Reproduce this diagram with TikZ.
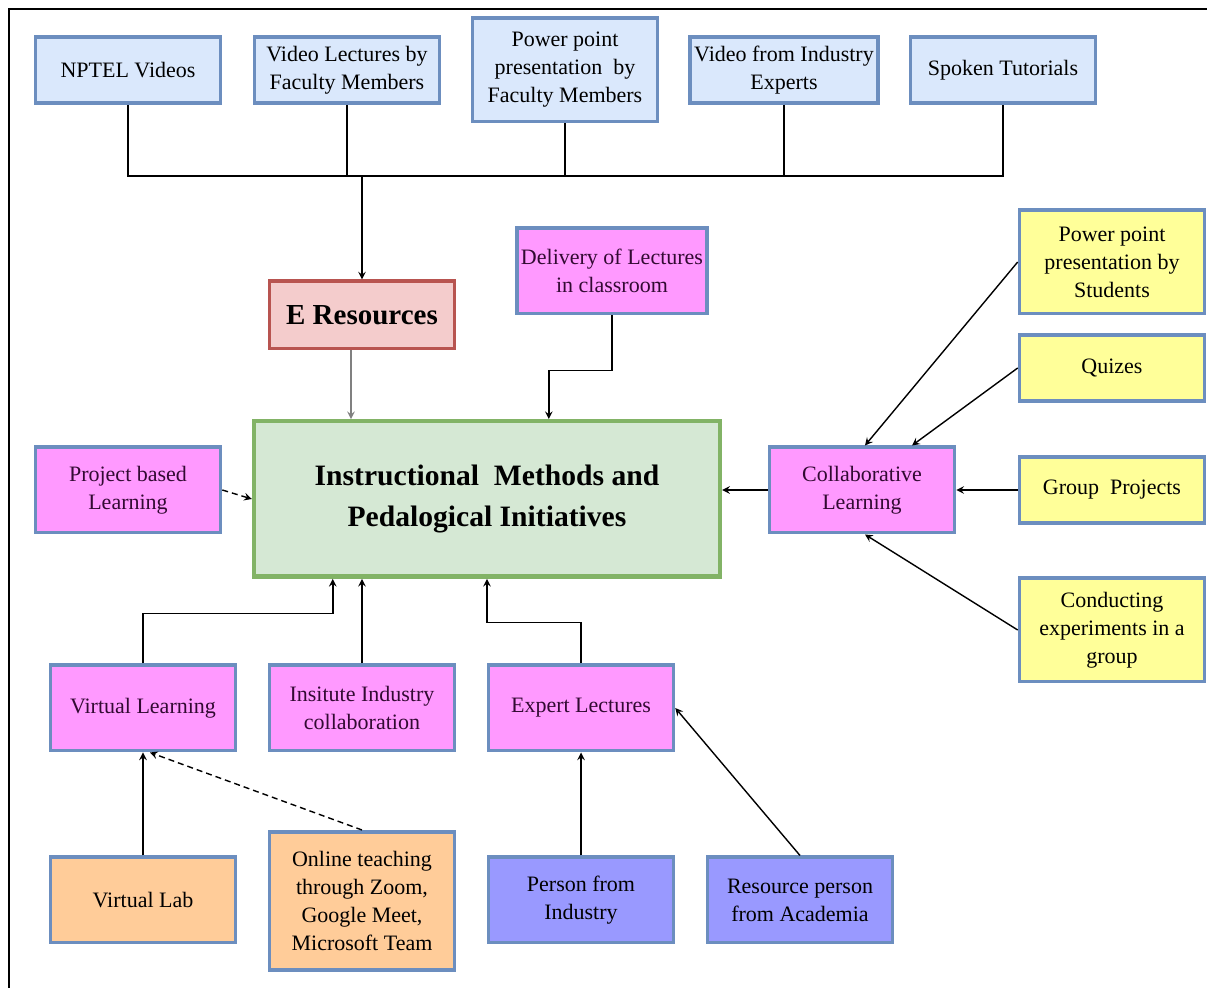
\documentclass[tikz,border=0pt]{standalone}
\usepackage{fontspec}
\setmainfont{LiberationSerif-Regular.ttf}[BoldFont=LiberationSerif-Bold.ttf]
\usepackage{tikz}
\usetikzlibrary{positioning,shapes,arrows,calc}
\definecolor{boxblue}{RGB}{218,232,252}
\definecolor{edgeblue}{RGB}{108,142,191}
\definecolor{boxmagenta}{RGB}{255,153,255}
\definecolor{boxyellow}{RGB}{255,255,153}
\definecolor{boxorange}{RGB}{255,204,153}
\definecolor{boxpurple}{RGB}{153,153,255}
\definecolor{boxpink}{RGB}{244,204,204}
\definecolor{edgered}{RGB}{184,84,80}
\definecolor{boxgreen}{RGB}{213,232,212}
\definecolor{edgegreen}{RGB}{130,179,102}
\definecolor{textpurple}{RGB}{50,10,50}

\tikzset{
  basebox/.style={draw=edgeblue, line width=1.8pt, align=center, inner sep=2pt,
    minimum width=92.5pt, minimum height=33pt, font=\fontsize{11}{14}\selectfont},
  srcbox/.style={basebox, fill=boxblue},
  methodbox/.style={basebox, fill=boxmagenta, minimum height=42.7pt, text=textpurple},
  groupbox/.style={basebox, fill=boxyellow},
  virtbox/.style={basebox, fill=boxorange, minimum height=42.7pt},
  personbox/.style={basebox, fill=boxpurple, minimum height=42.7pt},
  link/.style={-stealth, line width=0.7pt},
}

\begin{document}
\begin{tikzpicture}[x=0.5pt, y=-0.5pt]
\useasboundingbox (0,0) rectangle (1207,988);
% outer frame (left and top only)
\draw[line width=1pt] (9,988) -- (9,9) -- (1207,9);

% E resources at the top
\node[srcbox] (nptel) at (128,70) {NPTEL Videos};
\node[srcbox] (vidlec) at (347,70) {Video Lectures by\\Faculty Members};
\node[srcbox, minimum height=51.7pt] (pptfac) at (565,70) {Power point\\presentation\ \ by\\Faculty Members};
\node[srcbox] (vidind) at (784,70) {Video from Industry\\Experts};
\node[srcbox] (spoken) at (1003,70) {Spoken Tutorials};

\node[basebox, fill=boxpink, draw=edgered, minimum height=33.7pt, font=\fontsize{14.5}{17}\selectfont\bfseries] (eres) at (362,315) {E Resources};

% central node
\node[basebox, fill=boxgreen, draw=edgegreen, line width=2.2pt, minimum width=233pt, minimum height=77.7pt,
  font=\fontsize{14.8}{20.5}\selectfont\bfseries] (main) at (487,499)
  {Instructional\ \ Methods and\\Pedalogical Initiatives};

\node[methodbox] (deliv) at (612,271) {Delivery of Lectures\\in classroom};
\node[methodbox] (proj) at (128,490) {Project based\\Learning};
\node[methodbox] (collab) at (862,490) {Collaborative\\Learning};
\node[methodbox] (vlearn) at (143,708) {Virtual Learning};
\node[methodbox] (inst) at (362,708) {Insitute Industry\\collaboration};
\node[methodbox] (expert) at (581,708) {Expert Lectures};

% collaborative learning inputs
\node[groupbox, minimum height=51.7pt] (pptstu) at (1112,262) {Power point\\presentation by\\Students};
\node[groupbox] (quiz) at (1112,368) {Quizes};
\node[groupbox] (grpproj) at (1112,490) {Group\ \ Projects};
\node[groupbox, minimum height=51.7pt] (expt) at (1112,630) {Conducting\\experiments in a\\group};

% bottom row
\node[virtbox] (vlab) at (143,900) {Virtual Lab};
\node[virtbox, minimum height=69.2pt] (online) at (362,901) {Online teaching\\through Zoom,\\Google Meet,\\Microsoft Team};
\node[personbox] (pind) at (581,900) {Person from\\Industry};
\node[personbox] (pacad) at (800,900) {Resource person\\from Academia};

% bus from the video sources
\coordinate (bus) at (362,176);
\draw[line width=0.7pt] (nptel.south) |- (bus) -| (spoken.south);
\draw[line width=0.7pt] (vidlec.south) -- (vidlec.south |- bus);
\draw[line width=0.7pt] (pptfac.south) -- (pptfac.south |- bus);
\draw[line width=0.7pt] (vidind.south) -- (vidind.south |- bus);
\draw[link] (bus) -- (eres.north);

% into the central node
\draw[link, gray] ([xshift=-5.5pt]eres.south) -- ([xshift=-5.5pt]eres.south |- main.north);
\draw[link] (deliv.south) -- ++(0,55) -| ($(main.north west)+(297,0)$);
\draw[link, densely dashed] (proj.east) -- (main.west);
\draw[link] (collab.west) -- (collab.west -| main.east);
\draw[link] (vlearn.north) -- ++(0,-50) -| ($(main.south west)+(81,0)$);
\draw[link] (inst.north) -- (inst.north |- main.south);
\draw[link] (expert.north) -- ++(0,-41) -| (main.south);

% into collaborative learning
\draw[link] (pptstu.west) -- ($(collab.north)+(3,0)$);
\draw[link] (quiz.west) -- ($(collab.north)+(50,0)$);
\draw[link] (grpproj.west) -- (collab.east);
\draw[link] (expt.west) -- ($(collab.south)+(3,0)$);

% bottom row arrows
\draw[link] (vlab.north) -- (vlab.north |- vlearn.south);
\draw[link, densely dashed] (online.north) -- ($(vlearn.south)+(7,0)$);
\draw[link] (pind.north) -- (expert.south);
\draw[link] (pacad.north) -- (expert.east);
\end{tikzpicture}
\end{document}
